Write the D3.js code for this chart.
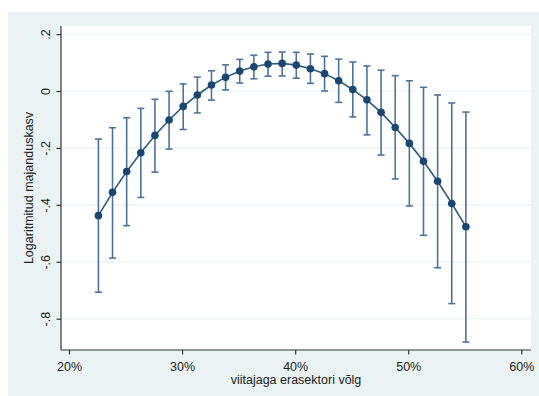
<!DOCTYPE html>
<html>
<head>
<meta charset="utf-8">
<script src="https://cdn.jsdelivr.net/npm/d3@7"></script>
<style>
  html, body { margin: 0; padding: 0; background: #ffffff; }
  svg { display: block; }
  text { font-family: "Liberation Sans", Arial, sans-serif; fill: #222; }
</style>
</head>
<body>
<svg id="chart" width="539" height="396"></svg>
<script>
// ---- data ----
const debtShare = [22.6, 23.85, 25.1, 26.35, 27.6, 28.85, 30.1, 31.35, 32.6, 33.85, 35.1, 36.35, 37.6,
                   38.85, 40.1, 41.35, 42.6, 43.85, 45.1, 46.35, 47.6, 48.85, 50.1, 51.35, 52.6, 53.85, 55.1];
const growth = [-0.438, -0.356, -0.283, -0.217, -0.156, -0.102, -0.054, -0.014, 0.021, 0.048, 0.070, 0.085, 0.095,
                0.097, 0.091, 0.078, 0.061, 0.036, 0.005, -0.031, -0.075, -0.128, -0.184, -0.247, -0.317, -0.395, -0.477];
const ciUpper = [-0.169, -0.129, -0.094, -0.061, -0.029, -0.001, 0.025, 0.049, 0.071, 0.092, 0.111, 0.126, 0.136,
                 0.137, 0.136, 0.130, 0.122, 0.112, 0.102, 0.088, 0.073, 0.054, 0.036, 0.013, -0.014, -0.042, -0.074];
const ciLower = [-0.707, -0.587, -0.473, -0.374, -0.285, -0.204, -0.135, -0.077, -0.032, 0.004, 0.028, 0.043, 0.052,
                 0.053, 0.045, 0.027, 0.000, -0.040, -0.091, -0.154, -0.225, -0.309, -0.404, -0.507, -0.621, -0.747, -0.882];
const xTicks = [20, 30, 40, 50, 60];
const yTicks = [0.2, 0, -0.2, -0.4, -0.6, -0.8];
const yTickLabels = [".2", "0", "-.2", "-.4", "-.6", "-.8"];
const xTitle = "viitajaga erasektori võlg";
const yTitle = "Logaritmitud majanduskasv";

const points = debtShare.map((d, i) => ({x: d, y: growth[i], lo: ciLower[i], hi: ciUpper[i]}));

// ---- layout ----
const svg = d3.select("#chart");
const W = 539, H = 396;
const plot = {left: 61, right: 531, top: 26, bottom: 350};

svg.append("rect").attr("x", 8).attr("y", 12).attr("width", W - 8).attr("height", H - 12)
  .attr("fill", "#eaf2f3");
svg.append("rect").attr("x", plot.left).attr("y", plot.top)
  .attr("width", plot.right - plot.left).attr("height", plot.bottom - plot.top)
  .attr("fill", "#ffffff");

const x = d3.scaleLinear().domain([20, 60]).range([69, 521.3]);
const y = d3.scaleLinear().domain([-0.8, 0.2]).range([318.7, 34.1]);

// gridlines
svg.append("g").selectAll("line").data(yTicks).join("line")
  .attr("x1", plot.left).attr("x2", plot.right)
  .attr("y1", d => y(d)).attr("y2", d => y(d))
  .attr("stroke", "#eaf2f3").attr("stroke-width", 1.2);

// y axis
const yAxis = d3.axisLeft(y).tickValues(yTicks).tickSize(4.5).tickPadding(0)
  .tickFormat((d, i) => yTickLabels[i]);
const gy = svg.append("g").attr("transform", `translate(${plot.left},0)`).call(yAxis);
gy.select(".domain").attr("d", `M0,${plot.top}V${plot.bottom}`).attr("stroke", "#333").attr("stroke-width", 1.2);
gy.selectAll(".tick line").attr("stroke", "#333").attr("stroke-width", 1.2);
gy.selectAll(".tick text")
  .attr("x", 0).attr("dy", null)
  .attr("transform", "translate(-11,0) rotate(-90)")
  .attr("text-anchor", "middle")
  .attr("font-size", 12.5).attr("fill", "#222")
  .style("font-family", "'Liberation Sans', Arial, sans-serif");

// x axis
const xAxis = d3.axisBottom(x).tickValues(xTicks).tickSize(4.5).tickPadding(0)
  .tickFormat(d => d + "%");
const gx = svg.append("g").attr("transform", `translate(0,${plot.bottom})`).call(xAxis);
gx.select(".domain").attr("d", `M${plot.left},0H${plot.right}`).attr("stroke", "#333").attr("stroke-width", 1.2);
gx.selectAll(".tick line").attr("stroke", "#333").attr("stroke-width", 1.2);
gx.selectAll(".tick text")
  .attr("y", 21).attr("dy", null)
  .attr("font-size", 12.5).attr("fill", "#222")
  .style("font-family", "'Liberation Sans', Arial, sans-serif");

// titles
svg.append("text").attr("x", (plot.left + plot.right) / 2).attr("y", 384)
  .attr("text-anchor", "middle").attr("font-size", 12.5).text(xTitle);
svg.append("text").attr("transform", `translate(33,${(plot.top + plot.bottom) / 2}) rotate(-90)`)
  .attr("text-anchor", "middle").attr("font-size", 12.5).text(yTitle);

// CI bars
const ciColor = "#4f7298";
const cap = 3.5;
const ci = svg.append("g");
ci.selectAll("line.v").data(points).join("line").attr("class", "v")
  .attr("x1", d => x(d.x)).attr("x2", d => x(d.x))
  .attr("y1", d => y(d.hi)).attr("y2", d => y(d.lo))
  .attr("stroke", ciColor).attr("stroke-width", 1.6);
ci.selectAll("line.t").data(points).join("line").attr("class", "t")
  .attr("x1", d => x(d.x) - cap).attr("x2", d => x(d.x) + cap)
  .attr("y1", d => y(d.hi)).attr("y2", d => y(d.hi))
  .attr("stroke", ciColor).attr("stroke-width", 1.6);
ci.selectAll("line.b").data(points).join("line").attr("class", "b")
  .attr("x1", d => x(d.x) - cap).attr("x2", d => x(d.x) + cap)
  .attr("y1", d => y(d.lo)).attr("y2", d => y(d.lo))
  .attr("stroke", ciColor).attr("stroke-width", 1.6);

// line and markers
const lineColor = "#1a476f";
svg.append("path").datum(points)
  .attr("d", d3.line().x(d => x(d.x)).y(d => y(d.y)))
  .attr("fill", "none").attr("stroke", "#2e5a80").attr("stroke-width", 1.6);
svg.append("g").selectAll("circle").data(points).join("circle")
  .attr("cx", d => x(d.x)).attr("cy", d => y(d.y)).attr("r", 3.8)
  .attr("fill", lineColor);
</script>
</body>
</html>
